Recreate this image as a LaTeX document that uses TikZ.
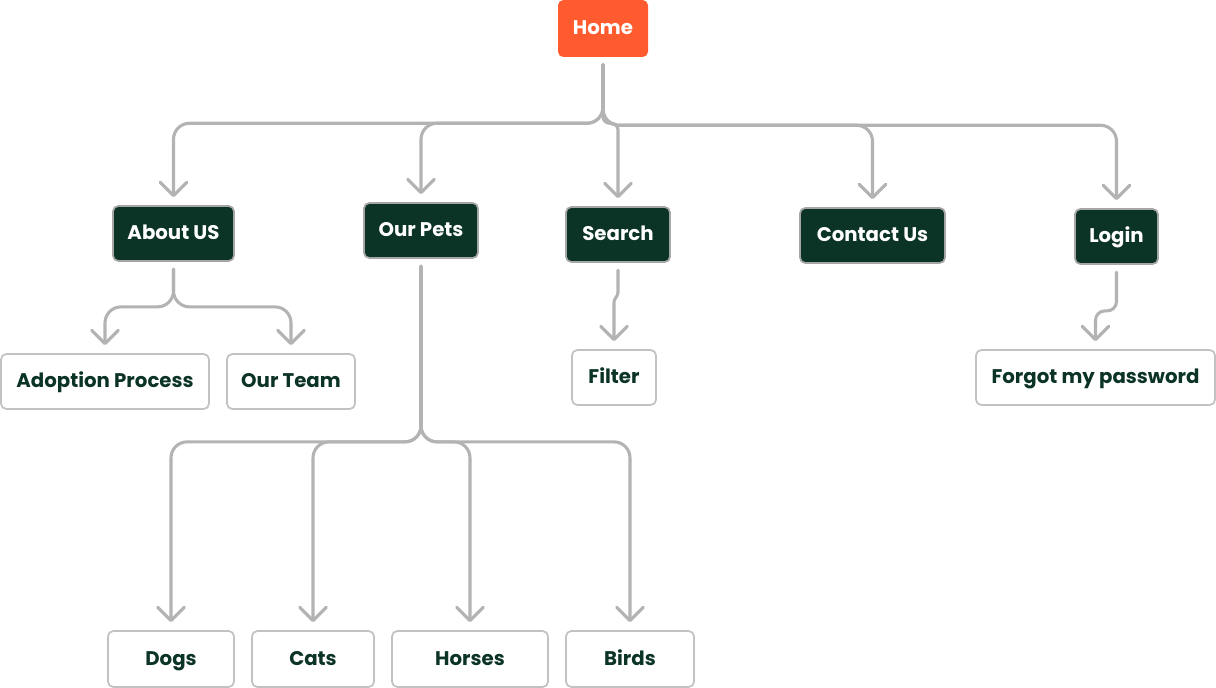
\documentclass[tikz,border=0pt]{standalone}
\usepackage{fontspec}
\setmainfont{Poppins}
\usetikzlibrary{arrows.meta}
\definecolor{dkgreen}{HTML}{0B3326}
\definecolor{orangec}{HTML}{FF5B2E}
\definecolor{linec}{HTML}{B3B3B3}
\definecolor{boxline}{HTML}{C2C2C2}
\definecolor{dkline}{HTML}{A6A6A6}
\begin{document}
\begin{tikzpicture}[x=0.75pt,y=-0.75pt,
  base/.style={rounded corners=4pt, align=center, inner sep=0pt, text height=0.95em, text depth=0pt,
    font=\fontsize{14.8}{17}\selectfont\bfseries},
  homebox/.style={base, fill=orangec, text=white, draw=none},
  dkbox/.style={base, fill=dkgreen, text=white, draw=dkline, line width=1.3pt},
  ltbox/.style={base, fill=white, text=dkgreen, draw=boxline, line width=1.3pt},
  conn/.style={draw=linec, line width=2.3pt, line cap=round, line join=round, rounded corners=12pt,
    -{Straight Barb[length=10pt, width=20pt, line cap=round, line join=round]},
    shorten <=5.5pt, shorten >=6pt},
]
\useasboundingbox (0,0) rectangle (1216,688);

\node[homebox, minimum width=90*0.75pt, minimum height=57*0.75pt] (home) at (603,28.5) {Home};

\node[dkbox, minimum width=121*0.75pt, minimum height=55*0.75pt] (about) at (173.5,233.5) {About US};
\node[dkbox, minimum width=114*0.75pt, minimum height=55*0.75pt] (pets) at (421,230.5) {Our Pets};
\node[dkbox, minimum width=104*0.75pt, minimum height=55*0.75pt] (search) at (618,234.5) {Search};
\node[dkbox, minimum width=145*0.75pt, minimum height=55*0.75pt] (contact) at (872.5,235.5) {Contact Us};
\node[dkbox, minimum width=83*0.75pt, minimum height=55*0.75pt] (login) at (1116.5,236.5) {Login};

\node[ltbox, minimum width=208*0.75pt, minimum height=55*0.75pt] (adopt) at (105,381.5) {Adoption Process};
\node[ltbox, minimum width=128*0.75pt, minimum height=55*0.75pt] (team) at (291,381.5) {Our Team};
\node[ltbox, minimum width=84*0.75pt, minimum height=55*0.75pt] (filter) at (614,377.5) {Filter};
\node[ltbox, minimum width=239*0.75pt, minimum height=55*0.75pt] (forgot) at (1095.5,377.5) {Forgot my password};

\node[ltbox, minimum width=126*0.75pt, minimum height=56*0.75pt] (dogs) at (171,659) {Dogs};
\node[ltbox, minimum width=122*0.75pt, minimum height=56*0.75pt] (cats) at (313,659) {Cats};
\node[ltbox, minimum width=156*0.75pt, minimum height=56*0.75pt] (horses) at (470,659) {Horses};
\node[ltbox, minimum width=128*0.75pt, minimum height=56*0.75pt] (birds) at (630,659) {Birds};

% Home branches
\draw[conn] (home.south) -- ++(0,66) -| (about.north);
\draw[conn] (home.south) -- ++(0,66) -| (pets.north);
\draw[conn, rounded corners=5pt] (home.south) -- ++(0,66) -| (search.north);
\draw[conn] (home.south) -- ++(0,68) -| (contact.north);
\draw[conn] (home.south) -- ++(0,68) -| (login.north);

% About branches
\draw[conn] (about.south) -- ++(0,45) -| (adopt.north);
\draw[conn] (about.south) -- ++(0,45) -| (team.north);

% Pets branches
\draw[conn] (pets.south) -- ++(0,183) -| (dogs.north);
\draw[conn] (pets.south) -- ++(0,183) -| (cats.north);
\draw[conn] (pets.south) -- ++(0,183) -| (horses.north);
\draw[conn] (pets.south) -- ++(0,183) -| (birds.north);

% Search -> Filter
\draw[conn, rounded corners=2pt] (search.south) -- ++(0,32) -- ++(-4,5) -- (filter.north);

% Login -> Forgot
\draw[conn, rounded corners=7pt] (login.south) -- ++(0,46) -| (forgot.north);
\end{tikzpicture}
\end{document}
